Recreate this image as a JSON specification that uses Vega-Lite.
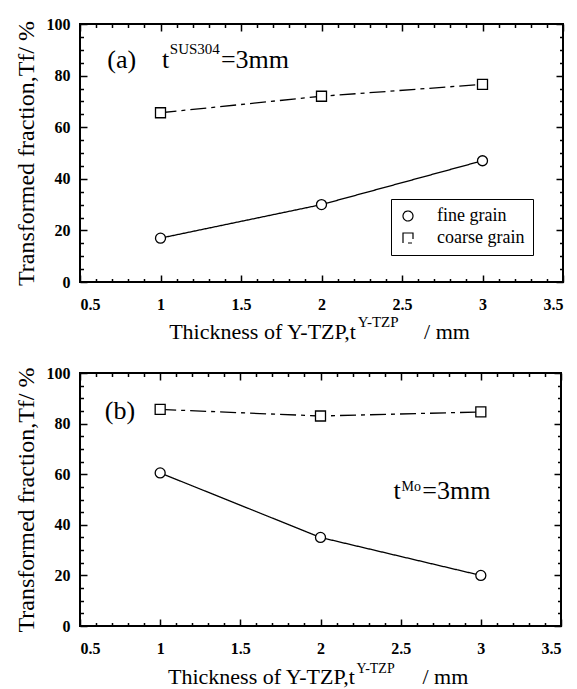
{
  "$schema": "https://vega.github.io/schema/vega-lite/v6.json",
  "padding": {"left": 12, "top": 15, "right": 0, "bottom": 0},
  "bounds": "flush",
  "spacing": 91,
  "background": "white",
  "datasets": {
    "a": [
      {"thickness": 1, "tf": 17, "grain": "fine grain"},
      {"thickness": 2, "tf": 30, "grain": "fine grain"},
      {"thickness": 3, "tf": 47, "grain": "fine grain"},
      {"thickness": 1, "tf": 65.6, "grain": "coarse grain"},
      {"thickness": 2, "tf": 72, "grain": "coarse grain"},
      {"thickness": 3, "tf": 76.6, "grain": "coarse grain"}
    ],
    "b": [
      {"thickness": 1, "tf": 60.5, "grain": "fine grain"},
      {"thickness": 2, "tf": 35, "grain": "fine grain"},
      {"thickness": 3, "tf": 20, "grain": "fine grain"},
      {"thickness": 1, "tf": 85.6, "grain": "coarse grain"},
      {"thickness": 2, "tf": 83, "grain": "coarse grain"},
      {"thickness": 3, "tf": 84.6, "grain": "coarse grain"}
    ],
    "bigA": [
      {"x": 0.67, "y": 83, "label": "(a)"},
      {"x": 1.01, "y": 83, "label": "t"},
      {"x": 1.375, "y": 83, "label": "=3mm"}
    ],
    "supA": [
      {"x": 1.058, "y": 88.4, "label": "SUS304"},
      {"x": 2.225, "y": -17.5, "label": "Y-TZP"}
    ],
    "bigB": [
      {"x": 0.655, "y": 81.8, "label": "(b)"},
      {"x": 2.455, "y": 50.2, "label": "t"},
      {"x": 2.635, "y": 50.2, "label": "=3mm"}
    ],
    "supB": [
      {"x": 2.505, "y": 53.5, "label": "Mo"},
      {"x": 2.225, "y": -18.5, "label": "Y-TZP"}
    ],
    "titleA": [
      {"x": 2.214, "y": -22, "label": "Thickness of Y-TZP,t"},
      {"x": 2.922, "y": -22, "label": "/ mm"}
    ],
    "titleB": [
      {"x": 2.214, "y": -23, "label": "Thickness of Y-TZP,t"},
      {"x": 2.922, "y": -23, "label": "/ mm"}
    ]
  },
  "config": {
    "font": "Liberation Serif",
    "view": {"stroke": "black", "strokeWidth": 2},
    "axis": {
      "domain": false,
      "grid": false,
      "tickColor": "black",
      "tickWidth": 1.5,
      "labelColor": "black",
      "labelFontSize": 16,
      "labelFontWeight": "bold",
      "titleFontSize": 24,
      "titleFontWeight": "normal",
      "titleColor": "black"
    }
  },
  "vconcat": [
    {
      "width": 483,
      "height": 258,
      "resolve": {"axis": {"x": "independent", "y": "independent"}},
      "layer": [
        {
          "data": {"name": "a"},
          "mark": {"type": "line", "color": "black", "strokeWidth": 1.3},
          "encoding": {
            "x": {"field": "thickness", "type": "quantitative",
                  "scale": {"domain": [0.5, 3.5], "nice": false, "zero": false},
                  "axis": {"orient": "bottom", "values": [0.5, 1, 1.5, 2, 2.5, 3, 3.5], "offset": -7, "tickSize": 7, "labelPadding": 14, "labelExpr": "'' + datum.value", "title": null}},
            "y": {"field": "tf", "type": "quantitative",
                  "scale": {"domain": [0, 100], "nice": false, "zero": false},
                  "axis": {"orient": "left", "values": [0, 20, 40, 60, 80, 100], "offset": -7, "tickSize": 7, "labelPadding": 10, "title": "Transformed fraction,Tf/ %", "titlePadding": 8}},
            "strokeDash": {"field": "grain", "type": "nominal",
                  "scale": {"domain": ["fine grain", "coarse grain"], "range": [[1, 0], [16, 5, 4, 5]]},
                  "legend": {
                    "orient": "none", "legendX": 311, "legendY": 175, "title": null,
                    "strokeColor": "black", "fillColor": "white", "padding": 8,
                    "labelFontSize": 18, "labelColor": "black",
                    "symbolSize": 100, "symbolStrokeColor": "black", "symbolStrokeWidth": 1.2,
                    "rowPadding": 4, "labelOffset": 20
                  }}
          }
        },
        {
          "data": {"name": "a"},
          "mark": {"type": "point", "filled": true, "fill": "white", "stroke": "black", "strokeWidth": 1.3, "size": 100, "opacity": 1},
          "encoding": {
            "x": {"field": "thickness", "type": "quantitative",
                  "axis": {"orient": "top", "values": [0.5, 1, 1.5, 2, 2.5, 3, 3.5], "offset": -7, "tickSize": 7, "labels": false, "title": null}},
            "y": {"field": "tf", "type": "quantitative",
                  "axis": {"orient": "right", "values": [0, 20, 40, 60, 80, 100], "offset": -7, "tickSize": 7, "labels": false, "title": null}},
            "shape": {"field": "grain", "type": "nominal",
                  "scale": {"domain": ["fine grain", "coarse grain"], "range": ["circle", "square"]},
                  "legend": null}
          }
        },
        {
          "data": {"name": "bigA"},
          "mark": {"type": "text", "align": "left", "baseline": "alphabetic", "fontSize": 26, "color": "black"},
          "encoding": {
            "x": {"field": "x", "type": "quantitative",
                  "axis": {"orient": "bottom", "values": [0.6,0.7,0.8,0.9,1.1,1.2,1.3,1.4,1.6,1.7,1.8,1.9,2.1,2.2,2.3,2.4,2.6,2.7,2.8,2.9,3.1,3.2,3.3,3.4], "offset": -3.5, "tickSize": 3.5, "labels": false, "title": null}},
            "y": {"field": "y", "type": "quantitative",
                  "axis": {"orient": "left", "values": [5,10,15,25,30,35,45,50,55,65,70,75,85,90,95], "offset": -3.5, "tickSize": 3.5, "labels": false, "title": null}},
            "text": {"field": "label"}
          }
        },
        {
          "data": {"name": "supA"},
          "mark": {"type": "text", "align": "left", "baseline": "alphabetic", "fontSize": 15, "color": "black"},
          "encoding": {
            "x": {"field": "x", "type": "quantitative",
                  "axis": {"orient": "top", "values": [0.6,0.7,0.8,0.9,1.1,1.2,1.3,1.4,1.6,1.7,1.8,1.9,2.1,2.2,2.3,2.4,2.6,2.7,2.8,2.9,3.1,3.2,3.3,3.4], "offset": -3.5, "tickSize": 3.5, "labels": false, "title": null}},
            "y": {"field": "y", "type": "quantitative",
                  "axis": {"orient": "right", "values": [5,10,15,25,30,35,45,50,55,65,70,75,85,90,95], "offset": -3.5, "tickSize": 3.5, "labels": false, "title": null}},
            "text": {"field": "label"}
          }
        },
        {
          "data": {"name": "titleA"},
          "mark": {"type": "text", "align": "right", "baseline": "alphabetic", "fontSize": 22, "color": "black"},
          "encoding": {
            "x": {"field": "x", "type": "quantitative", "axis": null},
            "y": {"field": "y", "type": "quantitative", "axis": null},
            "text": {"field": "label"}
          }
        }
      ]
    },
    {
      "width": 481,
      "height": 253,
      "resolve": {"axis": {"x": "independent", "y": "independent"}},
      "layer": [
        {
          "data": {"name": "b"},
          "mark": {"type": "line", "color": "black", "strokeWidth": 1.3},
          "encoding": {
            "x": {"field": "thickness", "type": "quantitative",
                  "scale": {"domain": [0.5, 3.5], "nice": false, "zero": false},
                  "axis": {"orient": "bottom", "values": [0.5, 1, 1.5, 2, 2.5, 3, 3.5], "offset": -7, "tickSize": 7, "labelPadding": 14, "labelExpr": "'' + datum.value", "title": null}},
            "y": {"field": "tf", "type": "quantitative",
                  "scale": {"domain": [0, 100], "nice": false, "zero": false},
                  "axis": {"orient": "left", "values": [0, 20, 40, 60, 80, 100], "offset": -7, "tickSize": 7, "labelPadding": 10, "title": "Transformed fraction,Tf/ %", "titlePadding": 8}},
            "strokeDash": {"field": "grain", "type": "nominal",
                  "scale": {"domain": ["fine grain", "coarse grain"], "range": [[1, 0], [16, 5, 4, 5]]},
                  "legend": {
                    "orient": "none", "legendX": 16, "legendY": 170, "title": null,
                    "strokeColor": "black", "fillColor": "white", "padding": 8,
                    "labelFontSize": 18, "labelColor": "black",
                    "symbolSize": 100, "symbolStrokeColor": "black", "symbolStrokeWidth": 1.2,
                    "rowPadding": 4, "labelOffset": 20
                  }}
          }
        },
        {
          "data": {"name": "b"},
          "mark": {"type": "point", "filled": true, "fill": "white", "stroke": "black", "strokeWidth": 1.3, "size": 100, "opacity": 1},
          "encoding": {
            "x": {"field": "thickness", "type": "quantitative",
                  "axis": {"orient": "top", "values": [0.5, 1, 1.5, 2, 2.5, 3, 3.5], "offset": -7, "tickSize": 7, "labels": false, "title": null}},
            "y": {"field": "tf", "type": "quantitative",
                  "axis": {"orient": "right", "values": [0, 20, 40, 60, 80, 100], "offset": -7, "tickSize": 7, "labels": false, "title": null}},
            "shape": {"field": "grain", "type": "nominal",
                  "scale": {"domain": ["fine grain", "coarse grain"], "range": ["circle", "square"]},
                  "legend": null}
          }
        },
        {
          "data": {"name": "bigB"},
          "mark": {"type": "text", "align": "left", "baseline": "alphabetic", "fontSize": 26, "color": "black"},
          "encoding": {
            "x": {"field": "x", "type": "quantitative",
                  "axis": {"orient": "bottom", "values": [0.6,0.7,0.8,0.9,1.1,1.2,1.3,1.4,1.6,1.7,1.8,1.9,2.1,2.2,2.3,2.4,2.6,2.7,2.8,2.9,3.1,3.2,3.3,3.4], "offset": -3.5, "tickSize": 3.5, "labels": false, "title": null}},
            "y": {"field": "y", "type": "quantitative",
                  "axis": {"orient": "left", "values": [5,10,15,25,30,35,45,50,55,65,70,75,85,90,95], "offset": -3.5, "tickSize": 3.5, "labels": false, "title": null}},
            "text": {"field": "label"}
          }
        },
        {
          "data": {"name": "supB"},
          "mark": {"type": "text", "align": "left", "baseline": "alphabetic", "fontSize": 14, "color": "black"},
          "encoding": {
            "x": {"field": "x", "type": "quantitative",
                  "axis": {"orient": "top", "values": [0.6,0.7,0.8,0.9,1.1,1.2,1.3,1.4,1.6,1.7,1.8,1.9,2.1,2.2,2.3,2.4,2.6,2.7,2.8,2.9,3.1,3.2,3.3,3.4], "offset": -3.5, "tickSize": 3.5, "labels": false, "title": null}},
            "y": {"field": "y", "type": "quantitative",
                  "axis": {"orient": "right", "values": [5,10,15,25,30,35,45,50,55,65,70,75,85,90,95], "offset": -3.5, "tickSize": 3.5, "labels": false, "title": null}},
            "text": {"field": "label"}
          }
        },
        {
          "data": {"name": "titleB"},
          "mark": {"type": "text", "align": "right", "baseline": "alphabetic", "fontSize": 22, "color": "black"},
          "encoding": {
            "x": {"field": "x", "type": "quantitative", "axis": null},
            "y": {"field": "y", "type": "quantitative", "axis": null},
            "text": {"field": "label"}
          }
        }
      ]
    }
  ]
}
